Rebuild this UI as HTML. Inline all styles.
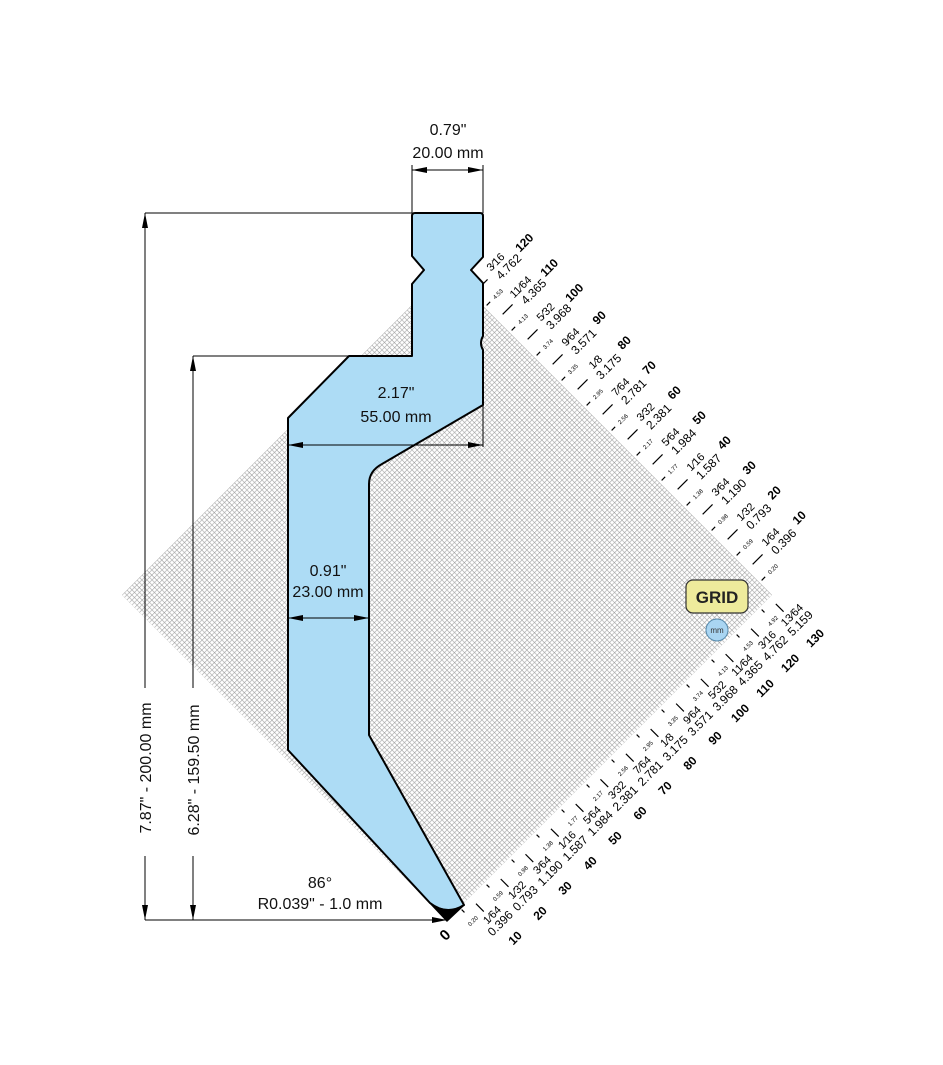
<!DOCTYPE html>
<html><head><meta charset="utf-8"><style>
html,body{margin:0;padding:0;background:#fff;}
svg{display:block;font-family:"Liberation Sans",Arial,sans-serif;}
.f{font-size:11px;text-anchor:middle;}
.d{font-size:12px;text-anchor:middle;}
.b{font-size:12px;font-weight:bold;text-anchor:middle;}
.t{font-size:6px;text-anchor:middle;}
.dim{font-size:16px;text-anchor:middle;fill:#111;}
</style></head><body>
<svg width="943" height="1065" viewBox="0 0 943 1065" xmlns="http://www.w3.org/2000/svg">
<defs>
<pattern id="g" width="17.68" height="17.68" patternUnits="userSpaceOnUse" patternTransform="translate(447,920) rotate(45)">
<rect width="17.68" height="17.68" fill="#fff"/>
<path d="M3.54 0V17.68M7.07 0V17.68M10.61 0V17.68M14.14 0V17.68M0 3.54H17.68M0 7.07H17.68M0 10.61H17.68M0 14.14H17.68" stroke="#a8a8a8" stroke-width="0.6"/>
<path d="M0 0V17.68M0 0H17.68" stroke="#808080" stroke-width="0.9"/>
</pattern>
<marker id="ar" viewBox="0 0 15 6" refX="15" refY="3" markerWidth="15" markerHeight="6" markerUnits="userSpaceOnUse" orient="auto-start-reverse"><path d="M0 0L15 3L0 6Z" fill="#000"/></marker>
</defs>
<polygon points="447,270 772,595 447,920 122,595" fill="url(#g)"/>

<!-- bottom edge scale -->
<text x="445" y="940" font-size="15" font-weight="bold" text-anchor="middle" transform="rotate(-45 445 935)">0</text>
<g transform="translate(447,920) rotate(-45)" fill="#000" stroke="#000">
<g stroke-width="1.2">
<path d="M17.7 3V7M53 3V7M88.4 3V7M123.7 3V7M159.1 3V7M194.5 3V7M229.8 3V7M265.2 3V7M300.5 3V7M335.9 3V7M371.2 3V7M406.6 3V7M442 3V7"/>
<path d="M32 9V20M67 9V20M102 9V20M138 9V20M173 9V20M208 9V20M244 9V20M279 9V20M315 9V20M350 9V20M385 9V20M421 9V20M456 9V20"/>
</g>
<g stroke="none">
<text class="t" x="17.7" y="21">0.20</text><text class="t" x="53" y="21">0.59</text><text class="t" x="88.4" y="21">0.98</text><text class="t" x="123.7" y="21">1.38</text><text class="t" x="159.1" y="21">1.77</text><text class="t" x="194.5" y="21">2.17</text><text class="t" x="229.8" y="21">2.56</text><text class="t" x="265.2" y="21">2.95</text><text class="t" x="300.5" y="21">3.35</text><text class="t" x="335.9" y="21">3.74</text><text class="t" x="371.2" y="21">4.13</text><text class="t" x="406.6" y="21">4.53</text><text class="t" x="442" y="21">4.92</text>
<text class="f" x="35.4" y="32">1⁄64</text><text class="f" x="70.7" y="32">1⁄32</text><text class="f" x="106.1" y="32">3⁄64</text><text class="f" x="141.4" y="32">1⁄16</text><text class="f" x="176.8" y="32">5⁄64</text><text class="f" x="212.1" y="32">3⁄32</text><text class="f" x="247.5" y="32">7⁄64</text><text class="f" x="282.8" y="32">1⁄8</text><text class="f" x="318.2" y="32">9⁄64</text><text class="f" x="353.6" y="32">5⁄32</text><text class="f" x="388.9" y="32">11⁄64</text><text class="f" x="424.3" y="32">3⁄16</text><text class="f" x="459.6" y="32">13⁄64</text>
<text class="d" x="35.4" y="44">0.396</text><text class="d" x="70.7" y="44">0.793</text><text class="d" x="106.1" y="44">1.190</text><text class="d" x="141.4" y="44">1.587</text><text class="d" x="176.8" y="44">1.984</text><text class="d" x="212.1" y="44">2.381</text><text class="d" x="247.5" y="44">2.781</text><text class="d" x="282.8" y="44">3.175</text><text class="d" x="318.2" y="44">3.571</text><text class="d" x="353.6" y="44">3.968</text><text class="d" x="388.9" y="44">4.365</text><text class="d" x="424.3" y="44">4.762</text><text class="d" x="459.6" y="44">5.159</text>
<text class="b" x="35.4" y="65">10</text><text class="b" x="70.7" y="65">20</text><text class="b" x="106.1" y="65">30</text><text class="b" x="141.4" y="65">40</text><text class="b" x="176.8" y="65">50</text><text class="b" x="212.1" y="65">60</text><text class="b" x="247.5" y="65">70</text><text class="b" x="282.8" y="65">80</text><text class="b" x="318.2" y="65">90</text><text class="b" x="353.6" y="65">100</text><text class="b" x="388.9" y="65">110</text><text class="b" x="424.3" y="65">120</text><text class="b" x="459.6" y="65">130</text>
</g></g>

<!-- top-right edge scale -->
<g fill="#000" stroke="#000" stroke-width="1.2">
<g transform="translate(747,570) rotate(-45)"><path d="M8 0H22M3 17.7H8"/><g stroke="none"><text class="t" x="19" y="19.7">0.20</text><text class="f" x="40" y="-3">1⁄64</text><text class="d" x="46" y="10">0.396</text><text class="b" x="74" y="4">10</text></g></g>
<g transform="translate(722,545) rotate(-45)"><path d="M8 0H22M3 17.7H8"/><g stroke="none"><text class="t" x="19" y="19.7">0.59</text><text class="f" x="40" y="-3">1⁄32</text><text class="d" x="46" y="10">0.793</text><text class="b" x="74" y="4">20</text></g></g>
<g transform="translate(697,520) rotate(-45)"><path d="M8 0H22M3 17.7H8"/><g stroke="none"><text class="t" x="19" y="19.7">0.98</text><text class="f" x="40" y="-3">3⁄64</text><text class="d" x="46" y="10">1.190</text><text class="b" x="74" y="4">30</text></g></g>
<g transform="translate(672,495) rotate(-45)"><path d="M8 0H22M3 17.7H8"/><g stroke="none"><text class="t" x="19" y="19.7">1.38</text><text class="f" x="40" y="-3">1⁄16</text><text class="d" x="46" y="10">1.587</text><text class="b" x="74" y="4">40</text></g></g>
<g transform="translate(647,470) rotate(-45)"><path d="M8 0H22M3 17.7H8"/><g stroke="none"><text class="t" x="19" y="19.7">1.77</text><text class="f" x="40" y="-3">5⁄64</text><text class="d" x="46" y="10">1.984</text><text class="b" x="74" y="4">50</text></g></g>
<g transform="translate(622,445) rotate(-45)"><path d="M8 0H22M3 17.7H8"/><g stroke="none"><text class="t" x="19" y="19.7">2.17</text><text class="f" x="40" y="-3">3⁄32</text><text class="d" x="46" y="10">2.381</text><text class="b" x="74" y="4">60</text></g></g>
<g transform="translate(597,420) rotate(-45)"><path d="M8 0H22M3 17.7H8"/><g stroke="none"><text class="t" x="19" y="19.7">2.56</text><text class="f" x="40" y="-3">7⁄64</text><text class="d" x="46" y="10">2.781</text><text class="b" x="74" y="4">70</text></g></g>
<g transform="translate(572,395) rotate(-45)"><path d="M8 0H22M3 17.7H8"/><g stroke="none"><text class="t" x="19" y="19.7">2.95</text><text class="f" x="40" y="-3">1⁄8</text><text class="d" x="46" y="10">3.175</text><text class="b" x="74" y="4">80</text></g></g>
<g transform="translate(547,370) rotate(-45)"><path d="M8 0H22M3 17.7H8"/><g stroke="none"><text class="t" x="19" y="19.7">3.35</text><text class="f" x="40" y="-3">9⁄64</text><text class="d" x="46" y="10">3.571</text><text class="b" x="74" y="4">90</text></g></g>
<g transform="translate(522,345) rotate(-45)"><path d="M8 0H22M3 17.7H8"/><g stroke="none"><text class="t" x="19" y="19.7">3.74</text><text class="f" x="40" y="-3">5⁄32</text><text class="d" x="46" y="10">3.968</text><text class="b" x="74" y="4">100</text></g></g>
<g transform="translate(497,320) rotate(-45)"><path d="M8 0H22M3 17.7H8"/><g stroke="none"><text class="t" x="19" y="19.7">4.13</text><text class="f" x="40" y="-3">11⁄64</text><text class="d" x="46" y="10">4.365</text><text class="b" x="74" y="4">110</text></g></g>
<g transform="translate(472,295) rotate(-45)"><path d="M8 0H22M3 17.7H8"/><g stroke="none"><text class="t" x="19" y="19.7">4.53</text><text class="f" x="40" y="-3">3⁄16</text><text class="d" x="46" y="10">4.762</text><text class="b" x="74" y="4">120</text></g></g>
</g>

<!-- profile -->
<path d="M415,213 L480,213 Q483,213 483,216 L483,257 L471,270 L483,283 L483,336 Q479,343 483,350 L483,405 L382,464 Q369,471 369,484 L369,735 L464,905 Q447,916 430,903 L288,750 L288,418 L349,356 L412,356 L412,284 L424,270 L412,256 L412,216 Q412,213 415,213 Z" fill="#addcf5" stroke="#000" stroke-width="2" stroke-linejoin="round"/>
<path d="M430,903 Q447,916 464,905 L447,921 Z" fill="#000" stroke="#000" stroke-width="1.5" stroke-linejoin="round"/>

<!-- dimensions -->
<g stroke="#000" stroke-width="1" fill="none">
<path d="M412,165V213M483,165V213"/>
<path d="M412,170H483" marker-start="url(#ar)" marker-end="url(#ar)"/>
<path d="M145,213H412M193,356H349M483,405V447"/>
<path d="M145,213V688" marker-start="url(#ar)"/>
<path d="M145,856V920" marker-end="url(#ar)"/>
<path d="M193,356V688" marker-start="url(#ar)"/>
<path d="M193,856V920" marker-end="url(#ar)"/>
<path d="M145,920H447" marker-end="url(#ar)"/>
<path d="M288,445H483" marker-start="url(#ar)" marker-end="url(#ar)"/>
<path d="M288,618H369" marker-start="url(#ar)" marker-end="url(#ar)"/>
</g>
<text class="dim" x="448" y="135">0.79"</text>
<text class="dim" x="448" y="158">20.00 mm</text>
<text class="dim" x="396" y="398">2.17"</text>
<text class="dim" x="396" y="422">55.00 mm</text>
<text class="dim" x="328" y="576">0.91"</text>
<text class="dim" x="328" y="597">23.00 mm</text>
<text class="dim" x="320" y="888">86°</text>
<text class="dim" x="320" y="909">R0.039" - 1.0 mm</text>
<text class="dim" transform="translate(151,768) rotate(-90)" x="0" y="0">7.87" - 200.00 mm</text>
<text class="dim" transform="translate(199,770) rotate(-90)" x="0" y="0">6.28" - 159.50 mm</text>

<rect x="686" y="580" width="62" height="33" rx="7" fill="#eeeb9c" stroke="#333" stroke-width="1.2"/>
<text x="717" y="603" font-size="17" font-weight="bold" text-anchor="middle" fill="#222">GRID</text>
<circle cx="717" cy="630" r="11" fill="#a9d5f2" stroke="#5588aa" stroke-width="1"/>
<text x="717" y="633" font-size="8" text-anchor="middle" fill="#333">mm</text>
</svg>
</body></html>
